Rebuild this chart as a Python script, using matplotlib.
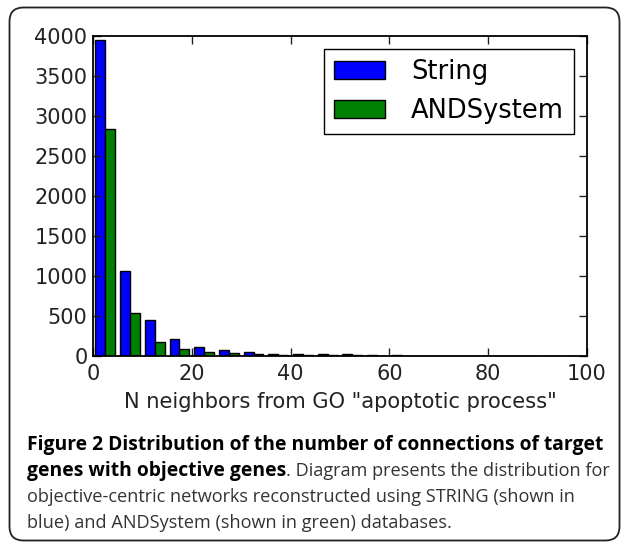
import matplotlib
matplotlib.use("Agg")
import matplotlib.pyplot as plt
import matplotlib.patches as mpatches
import matplotlib.transforms as mtransforms
import numpy as np

# histogram counts, bins of width 5 from 0 to 100
bin_edges = np.arange(0, 105, 5)
string_counts = [3950, 1062, 450, 210, 117, 76, 46, 30, 28, 24,
                 19, 12, 8, 6, 5, 4, 4, 3, 3, 0]
andsystem_counts = [2833, 535, 175, 93, 52, 34, 21, 12, 10, 8,
                    7, 5, 4, 3, 2, 2, 2, 1, 1, 0]
series_names = ["String", "ANDSystem"]
series_colors = ["#0000ff", "#008000"]
x_ticks = [0, 20, 40, 60, 80, 100]
y_ticks = list(range(0, 4001, 500))

xlabel = 'N neighbors from GO "apoptotic process"'
caption_bold_1 = "Figure 2 Distribution of the number of connections of target"
caption_bold_2 = "genes with objective genes"
caption_rest_2 = ". Diagram presents the distribution for"
caption_3 = "objective-centric networks reconstructed using STRING (shown in"
caption_4 = "blue) and ANDSystem (shown in green) databases."

W, H = 627, 542
fig = plt.figure(figsize=(W / 100, H / 100), dpi=100)
fig.patch.set_facecolor("white")

# rounded frame around the whole figure
frame = mpatches.FancyBboxPatch((9.5, 1.5), 610, 533,
                                boxstyle="round,pad=0,rounding_size=14",
                                transform=mtransforms.IdentityTransform(),
                                facecolor="none", edgecolor="#222222", linewidth=1.3)
fig.patches.append(frame)

ax = fig.add_axes([93 / W, 1 - 356 / H, (587 - 93) / W, (356 - 36) / H])
centers = (bin_edges[:-1] + bin_edges[1:]) / 2
ax.hist([centers, centers], bins=bin_edges,
        weights=[string_counts, andsystem_counts],
        color=series_colors, label=series_names,
        edgecolor="black", linewidth=1.0)

ax.set_xlim(0, 100)
ax.set_ylim(0, 4000)
ax.set_xticks(x_ticks)
ax.set_yticks(y_ticks)
ax.tick_params(direction="in", length=6, width=1, top=True, right=True,
               labelsize=15, colors="#222222")
ax.tick_params(axis="x", pad=5.5)
ax.tick_params(axis="y", pad=4)
for sp in ax.spines.values():
    sp.set_linewidth(1.3)
ax.set_xlabel(xlabel, fontsize=15.1, color="#222222", labelpad=6)

leg = ax.legend(loc="upper right", fontsize=18.5, fancybox=False,
                framealpha=1, edgecolor="black", handlelength=2.0,
                handleheight=0.7, borderaxespad=0.5, borderpad=0.4,
                labelspacing=0.5, handletextpad=1.0)
leg.get_frame().set_linewidth(1.0)

# caption, bold part followed by regular text
cap_font = ["Open Sans", "DejaVu Sans"]
bold_size = 13.9
reg_size = 13.1
x0 = 27 / W
fig.text(x0, 1 - 445 / H, caption_bold_1, fontsize=bold_size, fontweight="bold",
         family=cap_font, color="black", va="center")
t2 = fig.text(x0, 1 - 471 / H, caption_bold_2, fontsize=bold_size, fontweight="bold",
              family=cap_font, color="black", va="center")
fig.canvas.draw()
bb = t2.get_window_extent(renderer=fig.canvas.get_renderer())
fig.text(bb.x1 / W, 1 - 471 / H, caption_rest_2, fontsize=reg_size,
         family=cap_font, color="#333333", va="center")
fig.text(x0, 1 - 497 / H, caption_3, fontsize=reg_size,
         family=cap_font, color="#333333", va="center")
fig.text(x0, 1 - 523 / H, caption_4, fontsize=reg_size,
         family=cap_font, color="#333333", va="center")

fig.savefig("out.png", dpi=100)
